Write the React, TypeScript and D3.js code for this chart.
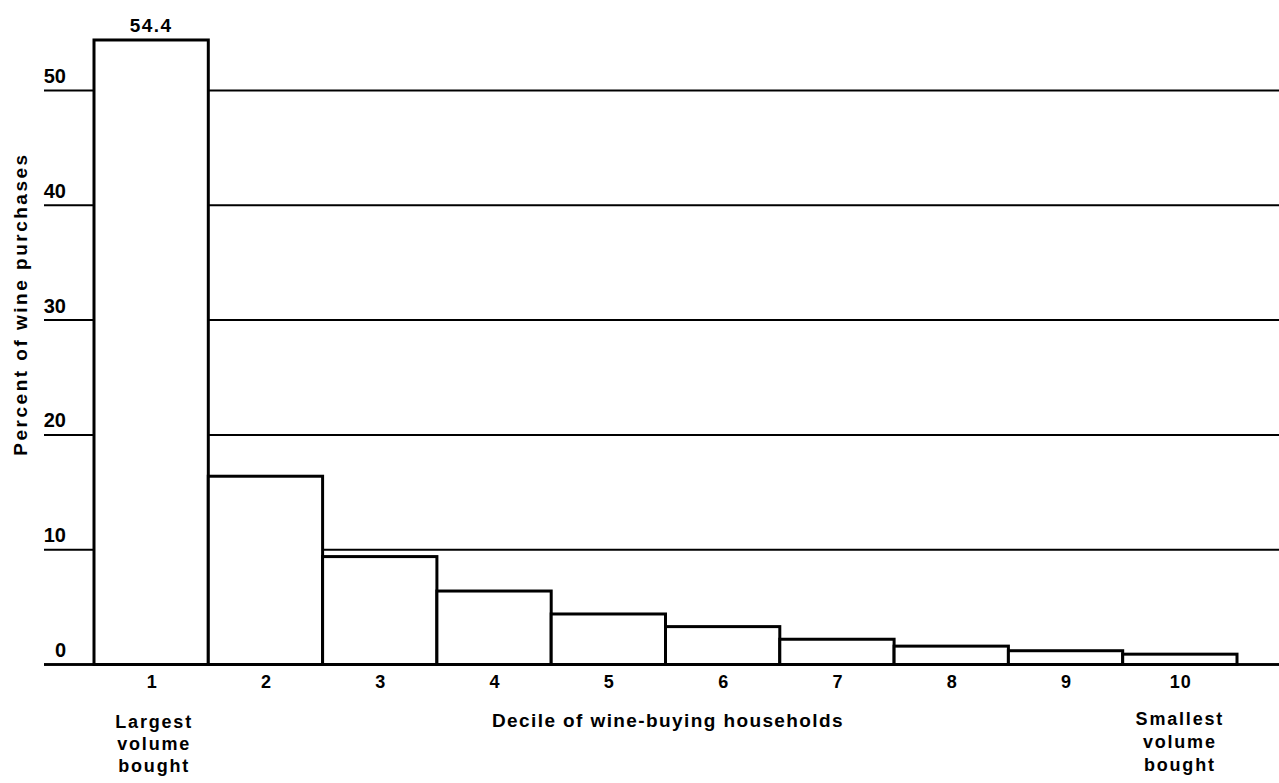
import React from "react";
import * as d3 from "d3";

const deciles = ["1", "2", "3", "4", "5", "6", "7", "8", "9", "10"];
const percents = [54.4, 16.4, 9.4, 6.4, 4.4, 3.3, 2.2, 1.6, 1.2, 0.9];
const yTicks = [0, 10, 20, 30, 40, 50];
const leftNote = ["Largest", "volume", "bought"];
const rightNote = ["Smallest", "volume", "bought"];
const xTitle = "Decile of wine-buying households";
const yTitle = "Percent of wine purchases";
const topLabel = "54.4";

export default function App() {
  const W = 1279;
  const H = 783;
  const x = d3.scaleBand<string>().domain(deciles).range([94, 1237]).padding(0);
  const y = d3.scaleLinear().domain([0, 50]).range([664.5, 90.5]);
  const font = "'Liberation Sans', Arial, Helvetica, sans-serif";
  const gridLeft = 44;
  const gridRight = 1279;
  return (
    <svg
      width={W}
      height={H}
      style={{ position: "absolute", left: 0, top: 0, background: "#fff" }}
      fontFamily={font}
    >
      <rect x={0} y={0} width={W} height={H} fill="#fff" />
      {yTicks.map((t) => (
        <g key={t}>
          <line
            x1={gridLeft}
            x2={gridRight}
            y1={y(t)}
            y2={y(t)}
            stroke="#000"
            strokeWidth={t === 0 ? 2.5 : 2}
          />
          <text
            x={66}
            y={y(t) - 7.5}
            textAnchor="end"
            fontSize={20}
            fontWeight={600}
            fill="#000"
          >
            {t}
          </text>
        </g>
      ))}
      {deciles.map((d, i) => (
        <rect
          key={d}
          x={x(d)!}
          y={y(percents[i])}
          width={x.bandwidth()}
          height={y(0) - y(percents[i])}
          fill="#fff"
          stroke="#000"
          strokeWidth={3}
        />
      ))}
      <line x1={gridLeft} x2={gridRight} y1={y(0)} y2={y(0)} stroke="#000" strokeWidth={2.5} />
      <text
        x={x(deciles[0])! + x.bandwidth() / 2}
        y={y(percents[0]) - 8}
        textAnchor="middle"
        fontSize={19}
        fontWeight={600}
        letterSpacing={1.5}
      >
        {topLabel}
      </text>
      {deciles.map((d) => (
        <text
          key={d}
          x={x(d)! + x.bandwidth() / 2 + 1}
          y={688}
          textAnchor="middle"
          fontSize={18}
          fontWeight={600}
          letterSpacing={1}
        >
          {d}
        </text>
      ))}
      {leftNote.map((s, i) => (
        <text
          key={"l" + i}
          x={x(deciles[0])! + x.bandwidth() / 2 + 3}
          y={728 + i * 22}
          textAnchor="middle"
          fontSize={18}
          fontWeight="bold"
          letterSpacing={1.8}
        >
          {s}
        </text>
      ))}
      {rightNote.map((s, i) => (
        <text
          key={"r" + i}
          x={x(deciles[9])! + x.bandwidth() / 2}
          y={725 + i * 23}
          textAnchor="middle"
          fontSize={18}
          fontWeight="bold"
          letterSpacing={1.8}
        >
          {s}
        </text>
      ))}
      <text
        x={668}
        y={727}
        textAnchor="middle"
        fontSize={19}
        fontWeight="bold"
        letterSpacing={1.4}
      >
        {xTitle}
      </text>
      <text
        transform={`translate(27, 304) rotate(-90)`}
        textAnchor="middle"
        fontSize={19}
        fontWeight="bold"
        letterSpacing={2.5}
      >
        {yTitle}
      </text>
    </svg>
  );
}
